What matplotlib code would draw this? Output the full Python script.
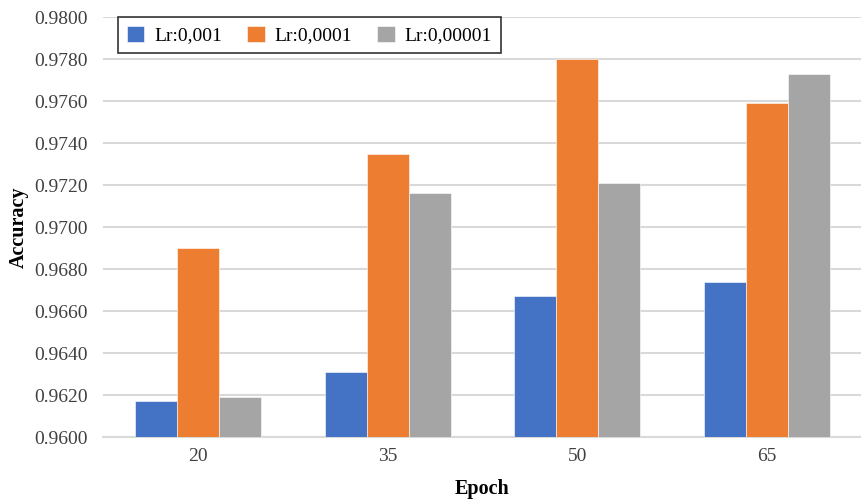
import matplotlib.pyplot as plt
import numpy as np

epochs = ['20', '35', '50', '65']
series_labels = ['Lr:0,001', 'Lr:0,0001', 'Lr:0,00001']
acc_lr_1e3 = [0.9617, 0.9631, 0.9667, 0.9674]
acc_lr_1e4 = [0.9690, 0.9735, 0.9780, 0.9759]
acc_lr_1e5 = [0.9619, 0.9716, 0.9721, 0.9773]
colors = ['#4472C4', '#ED7D31', '#A5A5A5']

plt.rcParams['font.family'] = ['Liberation Serif', 'DejaVu Serif']

fig = plt.figure(figsize=(8.62, 5.03), dpi=100)
ax = fig.add_axes([0.1195, 0.1312, 0.8805, 0.8350])

x = np.arange(len(epochs))
width = 0.221
for i, (vals, lab) in enumerate(zip([acc_lr_1e3, acc_lr_1e4, acc_lr_1e5], series_labels)):
    ax.bar(x + (i - 1) * width, vals, width, color=colors[i], label=lab,
           edgecolor='white', linewidth=0.4, zorder=3)

ticks = np.arange(0.96, 0.9801, 0.002)
ax.set_ylim(0.96, 0.98)
ax.set_yticks(ticks)
ax.set_yticklabels(['%.4f' % v for v in ticks])
ax.set_xlim(-0.5, 3.5)
ax.set_xticks(x)
ax.set_xticklabels(epochs)
ax.tick_params(length=0, labelsize=14, colors='#404040')
ax.tick_params(axis='y', pad=11)
ax.tick_params(axis='x', pad=8)
ax.grid(axis='y', color='#D9D9D9', linewidth=1.5, zorder=0)
for s in ['top', 'right', 'left']:
    ax.spines[s].set_visible(False)
ax.spines['bottom'].set_color('#D9D9D9')
ax.spines['bottom'].set_linewidth(1.5)

ax.set_xlabel('Epoch', fontsize=14.5, fontweight='bold', labelpad=10)
ax.set_ylabel('Accuracy', fontsize=14.5, fontweight='bold', labelpad=4)

leg = ax.legend(ncol=3, loc='upper left', bbox_to_anchor=(0.0198, 1.0),
                borderaxespad=0, fontsize=14, frameon=True, fancybox=False,
                handlelength=0.9, handleheight=0.9, columnspacing=1.3,
                handletextpad=0.5, borderpad=0.45)
leg.get_frame().set_edgecolor('black')
leg.get_frame().set_linewidth(1.2)

fig.savefig('out.png', dpi=100)
